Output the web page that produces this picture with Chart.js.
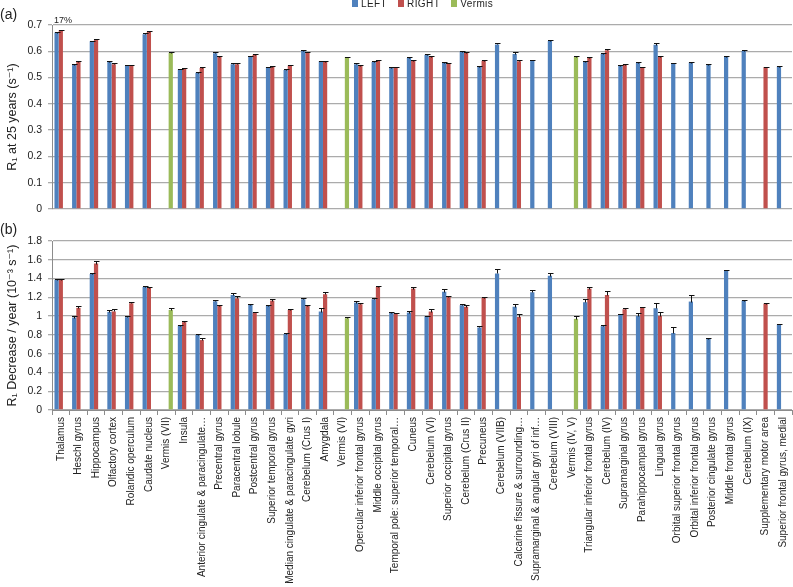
<!DOCTYPE html>
<html>
<head>
<meta charset="utf-8">
<script src="https://cdn.jsdelivr.net/npm/chart.js@4"></script>
<style>
  body{margin:0;width:793px;height:587px;background:#fff;position:relative;overflow:hidden;font-family:"Liberation Sans",Arial,sans-serif;color:#222}
  canvas{position:absolute;left:0}
  #c1{top:0}
  #c2{top:225px}
  .txt{position:absolute;white-space:nowrap}
  .legend{position:absolute;left:352px;top:-2px;display:flex;align-items:center;font-size:10px;letter-spacing:0.4px}
  .legend span.box{display:inline-block;width:6px;height:7px;margin-right:3px}
  .legend span.item{display:flex;align-items:center;margin-right:11px}
</style>
</head>
<body>
<canvas id="c1" width="793" height="215"></canvas>
<canvas id="c2" width="793" height="362"></canvas>
<div class="txt" style="left:0;top:6px;font-size:14px">(a)</div>
<div class="txt" style="left:0;top:221px;font-size:14px">(b)</div>
<div class="txt" style="left:54px;top:15px;font-size:9px">17%</div>
<div class="legend">
  <span class="item"><span class="box" style="background:#4F81BD"></span>LEFT</span>
  <span class="item"><span class="box" style="background:#C0504D"></span>RIGHT</span>
  <span class="item"><span class="box" style="background:#9BBB59"></span>Vermis</span>
</div>
<script>
const categories = [
  "Thalamus","Heschl gyrus","Hippocampus","Olfactory cortex","Rolandic operculum","Caudate nucleus",
  "Vermis (VII)","Insula","Anterior cingulate & paracingulate…","Precentral gyrus","Paracentral lobule",
  "Postcentral gyrus","Superior temporal gyrus","Median cingulate & paracingulate gyri","Cerebelum (Crus I)",
  "Amygdala","Vermis (VI)","Opercular inferior frontal gyrus","Middle occipital gyrus",
  "Temporal pole: superior temporal…","Cuneus","Cerebelum (VI)","Superior occipital gyrus",
  "Cerebelum (Crus II)","Precuneus","Cerebelum (VIIB)","Calcarine fissure & surrounding…",
  "Supramarginal & angular gyri of inf…","Cerebelum (VIII)","Vermis (IV, V)",
  "Triangular inferior frontal gyrus","Cerebelum (IV)","Supramarginal gyrus","Parahippocampal gyrus",
  "Lingual gyrus","Orbital superior frontal gyrus","Orbital inferior frontal gyrus",
  "Posterior cingulate gyrus","Middle frontal gyrus","Cerebelum (IX)","Supplementary motor area",
  "Superior frontal gyrus, medial"
];
const N = null;
// (a) R1 at 25 years (s^-1)
const r1Left   = [0.671,0.549,0.638,0.559,0.546,0.665,N,0.531,0.518,0.593,0.551,0.581,0.540,0.529,0.602,0.562,N,0.551,0.559,0.537,0.574,0.587,0.556,0.599,0.541,0.626,0.590,0.565,0.639,N,0.559,0.590,0.545,0.555,0.625,0.554,0.557,0.549,0.580,0.601,N,0.542];
const r1Right  = [0.680,0.559,0.645,0.551,0.546,0.674,N,0.536,0.536,0.580,0.551,0.587,0.542,0.546,0.597,0.561,N,0.544,0.565,0.539,0.564,0.580,0.555,0.594,0.564,N,0.562,N,N,N,0.574,0.604,0.549,0.540,0.580,N,N,N,N,N,0.540,N];
const r1Vermis = [N,N,N,N,N,N,0.594,N,N,N,N,N,N,N,N,N,0.578,N,N,N,N,N,N,N,N,N,N,N,N,0.579,N,N,N,N,N,N,N,N,N,N,N,N];
const r1LeftErr   = [0.003,0.003,0.003,0.003,0.002,0.003,N,0.002,0.003,0.003,0.003,0.002,0.002,0.003,0.003,0.002,N,0.003,0.003,0.002,0.003,0.003,0.003,0.003,0.004,0.005,0.008,0.002,0.003,N,0.003,0.003,0.002,0.003,0.005,0.002,0.004,0.002,0.002,0.003,N,0.002];
const r1RightErr  = [0.002,0.003,0.003,0.003,0.002,0.003,N,0.002,0.003,0.002,0.003,0.003,0.002,0.003,0.002,0.002,N,0.003,0.003,0.002,0.003,0.002,0.002,0.002,0.003,N,0.003,N,N,N,0.003,0.005,0.002,0.002,0.003,N,N,N,N,N,0.002,N];
const r1VermisErr = [N,N,N,N,N,N,0.003,N,N,N,N,N,N,N,N,N,0.002,N,N,N,N,N,N,N,N,N,N,N,N,0.003,N,N,N,N,N,N,N,N,N,N,N,N];
// (b) R1 decrease / year (10^-3 s^-1)
const decLeft   = [1.388,0.985,1.448,1.045,0.989,1.310,N,0.900,0.800,1.158,1.225,1.120,1.112,0.810,1.180,1.049,N,1.144,1.180,1.038,1.038,1.000,1.260,1.116,0.879,1.455,1.100,1.254,1.430,N,1.148,0.893,1.020,1.003,1.084,0.820,1.155,0.760,1.487,1.165,N,0.911];
const decRight  = [1.385,1.088,1.560,1.050,1.137,1.300,N,0.936,0.745,1.112,1.190,1.040,1.165,1.066,1.109,1.233,N,1.127,1.310,1.028,1.293,1.049,1.208,1.100,1.197,N,0.992,N,N,N,1.293,1.225,1.073,1.095,1.003,N,N,N,N,N,1.134,N];
const decVermis = [N,N,N,N,N,N,1.066,N,N,N,N,N,N,N,N,N,0.978,N,N,N,N,N,N,N,N,N,N,N,N,0.971,N,N,N,N,N,N,N,N,N,N,N,N];
const decLeftErr   = [0.010,0.015,0.015,0.015,0.008,0.010,N,0.008,0.010,0.010,0.025,0.008,0.006,0.015,0.015,0.035,N,0.015,0.008,0.008,0.020,0.006,0.025,0.015,0.015,0.045,0.030,0.020,0.030,N,0.030,0.015,0.005,0.025,0.055,0.060,0.065,0.008,0.008,0.005,N,0.005];
const decRightErr  = [0.010,0.015,0.025,0.030,0.008,0.015,N,0.008,0.025,0.005,0.020,0.008,0.015,0.012,0.010,0.025,N,0.015,0.010,0.005,0.015,0.025,0.010,0.015,0.010,N,0.030,N,N,N,0.020,0.040,0.015,0.005,0.040,N,N,N,N,N,0.005,N];
const decVermisErr = [N,N,N,N,N,N,0.020,N,N,N,N,N,N,N,N,N,0.015,N,N,N,N,N,N,N,N,N,N,N,N,0.025,N,N,N,N,N,N,N,N,N,N,N,N];

const seriesNames = ["LEFT","RIGHT","Vermis"];
const seriesColors = ["#4F81BD","#C0504D","#9BBB59"];

const errorBars = {
  id:'errorBars',
  afterDatasetsDraw(chart){
    const ctx = chart.ctx, ys = chart.scales.y;
    ctx.save();
    ctx.strokeStyle = '#111';
    ctx.lineWidth = 1;
    chart.data.datasets.forEach((ds,i)=>{
      const meta = chart.getDatasetMeta(i);
      meta.data.forEach((el,j)=>{
        const v = ds.data[j], e = ds.errors[j];
        if (v==null || e==null) return;
        const yt = Math.round(ys.getPixelForValue(v+e))+0.5;
        const yb = Math.round(el.y)+0.5;
        const x = Math.round(el.x)+0.5;
        ctx.beginPath();
        ctx.moveTo(x,yb); ctx.lineTo(x,yt);
        ctx.moveTo(x-2.5,yt); ctx.lineTo(x+3,yt);
        ctx.stroke();
      });
    });
    ctx.restore();
  }
};

function makeDatasets(vals, errs){
  return vals.map((v,i)=>({
    label: seriesNames[i], data: v, errors: errs[i],
    backgroundColor: seriesColors[i], borderWidth: 0,
    categoryPercentage: 0.72, barPercentage: 1.0
  }));
}

const tickFmt = v => String(Math.round(v*10)/10);
const titleFont = {family:'"Liberation Sans", "DejaVu Sans", sans-serif', size:12.5};

function makeChart(id, datasets, yMax, yStep, yTitle, showX, padTop, padBottom, xHeight){
  return new Chart(document.getElementById(id), {
    type:'bar',
    data:{labels:categories, datasets},
    options:{
      responsive:false, animation:false,
      layout:{autoPadding:false, padding:{top:padTop,left:0,right:1,bottom:padBottom}},
      plugins:{legend:{display:false}, tooltip:{enabled:false}},
      scales:{
        x:{
          display: showX,
          afterFit(s){ s.height = xHeight; s.paddingLeft = 0; s.paddingRight = 0; },
          grid:{display:true, drawOnChartArea:false, drawTicks:true, tickLength:5, color:'#8c8c8c', offset:true},
          border:{display:true, color:'#8c8c8c', width:1},
          ticks:{autoSkip:false, maxRotation:90, minRotation:90, padding:2,
                 color:'#222', font:{family:'"Liberation Sans", Arial, sans-serif', size:10}}
        },
        y:{
          min:0, max:yMax,
          afterFit(s){ s.width = 52; s.paddingTop = 0; s.paddingBottom = 0; },
          ticks:{stepSize:yStep, callback:tickFmt, padding:6, color:'#222',
                 font:{family:'"Liberation Sans", Arial, sans-serif', size:10.5}},
          grid:{color:'#ababab', lineWidth:1.3, tickLength:4, drawTicks:true},
          border:{display:true, color:'#8c8c8c', width:1},
          title:{display:true, text:yTitle, color:'#222', padding:{top:5,bottom:0}, font:titleFont}
        }
      }
    },
    plugins:[errorBars]
  });
}

makeChart('c1', makeDatasets([r1Left,r1Right,r1Vermis],[r1LeftErr,r1RightErr,r1VermisErr]),
  0.7, 0.1, 'R\u2081 at 25 years (s\u207B\u00B9)', false, 25, 6, 0);
makeChart('c2', makeDatasets([decLeft,decRight,decVermis],[decLeftErr,decRightErr,decVermisErr]),
  1.8, 0.2, 'R\u2081 Decrease / year (10\u207B\u00B3 s\u207B\u00B9)', true, 16, 0, 177);
</script>
</body>
</html>
